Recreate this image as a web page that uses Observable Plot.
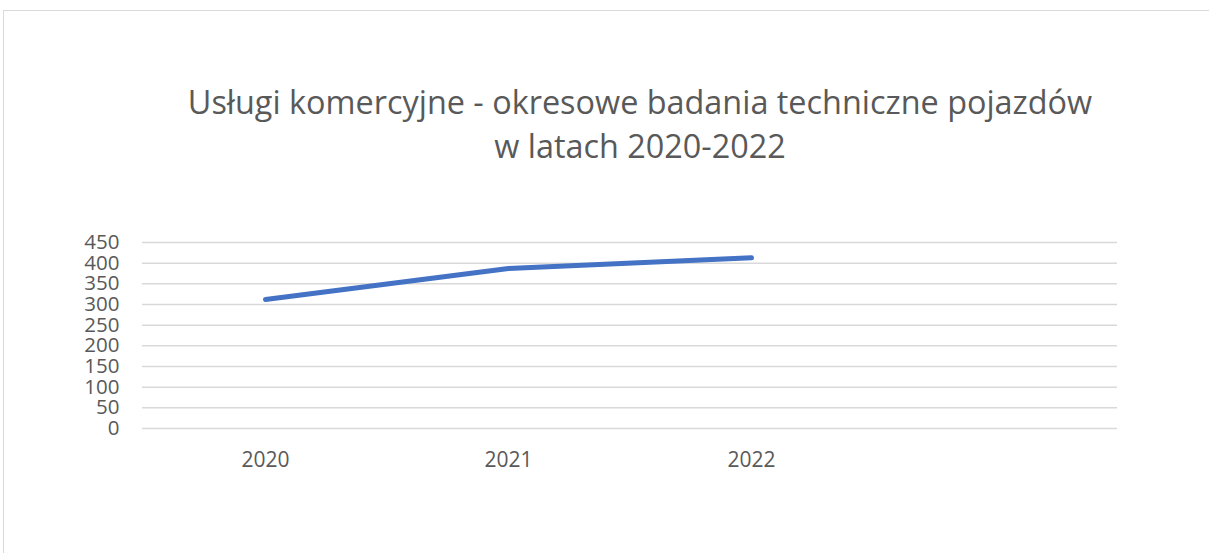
<!DOCTYPE html>
<html>
<head>
<meta charset="utf-8">
<script src="https://cdn.jsdelivr.net/npm/d3@7"></script>
<script src="https://cdn.jsdelivr.net/npm/@observablehq/plot@0.6"></script>
<style>
  html, body { margin: 0; padding: 0; background: #fff; overflow: hidden; }
  #wrap { position: relative; width: 1209px; height: 553px; overflow: hidden; }
  #frame { position: absolute; left: 3px; top: 10px; width: 1400px; height: 800px; border: 1px solid #d9d9d9; box-sizing: border-box; }
  #title { position: relative; height: 215px; box-sizing: border-box; padding-top: 79px; text-align: center;
           font-family: "Open Sans", sans-serif; font-size: 32.4px; line-height: 44px; color: #595959; padding-left: 71px; }
  #chart { position: relative; }
  #chart svg { display: block; }
</style>
</head>
<body>
<div id="wrap">
  <div id="frame"></div>
  <div id="title">Usługi komercyjne - okresowe badania techniczne pojazdów<br>w latach 2020-2022</div>
  <div id="chart"></div>
</div>
<script>
const years = ["2020", "2021", "2022"];
const values = [312, 387, 413];
const xCategories = ["2020", "2021", "2022", ""];
const yTicks = [0, 50, 100, 150, 200, 250, 300, 350, 400, 450];

const data = years.map((y, i) => ({year: y, value: values[i]}));

const chart = Plot.plot({
  width: 1209,
  height: 338,
  marginTop: 27,
  marginBottom: 125,
  marginLeft: 142,
  marginRight: 92,
  style: {background: "transparent", color: "#595959"},
  x: {type: "point", domain: xCategories, padding: 0.5, label: null},
  y: {domain: [0, 450], ticks: yTicks, label: null},
  marks: [
    Plot.gridY(yTicks, {stroke: "#d9d9d9", strokeOpacity: 1, strokeWidth: 1.5}),
    Plot.axisY(yTicks, {tickSize: 0, tickPadding: 23, fontSize: 20.5, fontFamily: "Open Sans", fill: "#595959", label: null}),
    Plot.axisX(xCategories, {tickSize: 0, tickPadding: 24, fontSize: 21, fontFamily: "'Liberation Sans Narrow', 'Open Sans'", fill: "#595959", label: null}),
    Plot.line(data, {x: "year", y: "value", stroke: "#4472c4", strokeWidth: 5, strokeLinecap: "round", strokeLinejoin: "round"})
  ]
});
document.getElementById("chart").appendChild(chart);
</script>
</body>
</html>
